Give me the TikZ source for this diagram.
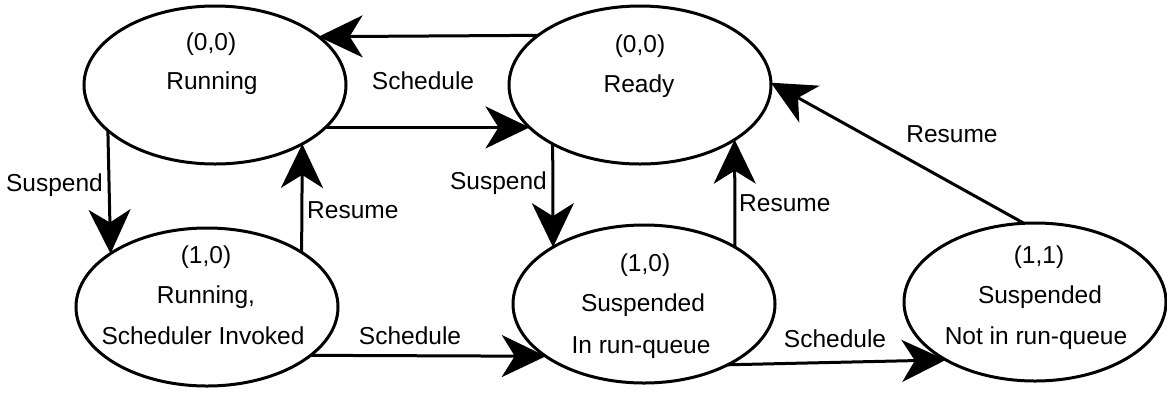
\documentclass[tikz,border=0pt]{standalone}
\usepackage{fontspec}
\setmainfont{Liberation Sans}
\usetikzlibrary{arrows.meta,shapes.geometric}
\begin{document}
\begin{tikzpicture}[x=1pt,y=-1pt,
  st/.style={draw, line width=3pt, ellipse, minimum width=262pt, minimum height=158pt, inner sep=0pt, outer sep=0pt},
  txt/.style={font=\fontsize{24.5}{29}\selectfont, inner sep=0pt, text height=17.9pt, text depth=5.1pt},
  arr/.style={line width=3pt, -{Stealth[length=44pt,width=42pt,inset=13pt]}},
  plain/.style={line width=3pt}]
\useasboundingbox (0,0) rectangle (1167,392);
% states
\node[st] (run) at (215,85) {};
\node[st] (ready) at (640,85) {};
\node[st] (inv) at (207,307) {};
\node[st] (inq) at (644,304) {};
\node[st] (notq) at (1035,302) {};
% state texts
\node[txt] (t1a) at (211,44) {(0,0)};
\node[txt] (t1b) at (212,83) {Running};
\node[txt] (t2a) at (640,46) {(0,0)};
\node[txt] (t2b) at (639,86) {Ready};
\node[txt] (t3a) at (206,257) {(1,0)};
\node[txt] (t3b) at (206,297) {Running,};
\node[txt] (t3c) at (203,338) {Scheduler Invoked};
\node[txt] (t4a) at (645,265) {(1,0)};
\node[txt] (t4b) at (643,305) {Suspended};
\node[txt] (t4c) at (641,347) {In run-queue};
\node[txt] (t5a) at (1039,257) {(1,1)};
\node[txt] (t5b) at (1040,297) {Suspended};
\node[txt] (t5c) at (1036,338) {Not in run-queue};
% transitions
\draw[arr] (ready.154.1) -- (run.25.9);
\draw[arr] (run.-21.1) -- (ready.201.1);
\draw[arr] (run.203.7) -- (inv.151.9);
\draw[arr] (inv.30.3) -- (run.-34.7);
\draw[arr] (ready.214.1) -- (inq.148.0);
\draw[arr] (inq.32.5) -- (ready.-30.3);
\draw[arr] (inv.-25.9) -- (inq.208.2);
\draw[arr] (inq.-36.6) -- (notq.213.7);
\draw[arr] (notq.98.5) -- (ready.1.3);
% transition labels
\node[txt] (l1) at (423,83) {Schedule};
\node[txt, anchor=east] (l2) at (103,185) {Suspend};
\node[txt, anchor=west] (l3) at (307,212) {Resume};
\node[txt, anchor=east] (l4) at (547,183) {Suspend};
\node[txt, anchor=west] (l5) at (739,205) {Resume};
\node[txt] (l6) at (952,136) {Resume};
\node[txt] (l7) at (410,338) {Schedule};
\node[txt] (l8) at (835,341) {Schedule};
\end{tikzpicture}
\end{document}
